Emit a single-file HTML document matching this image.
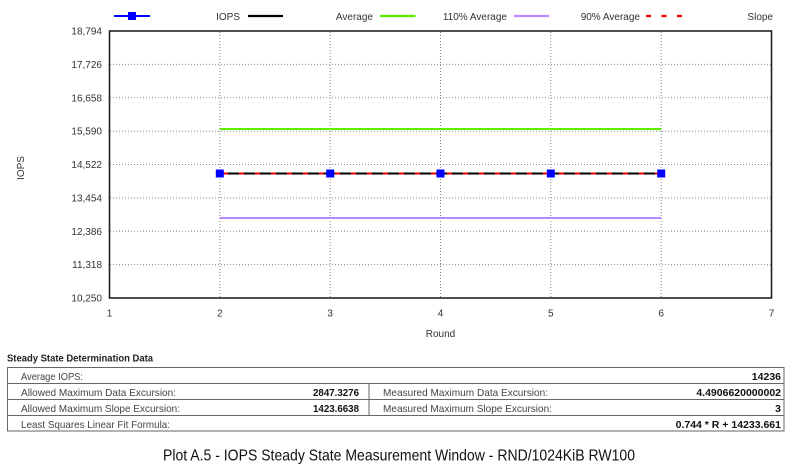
<!DOCTYPE html>
<html><head><meta charset="utf-8"><style>
html,body{margin:0;padding:0;background:#fff;}
svg{display:block;}
</style></head><body>
<svg width="800" height="465" viewBox="0 0 800 465" xmlns="http://www.w3.org/2000/svg" font-family="Liberation Sans, Arial, sans-serif">
<rect width="800" height="465" fill="#fff"/>
<!-- grid -->
<g stroke="#8a8a8a" stroke-width="1" stroke-dasharray="1,2" fill="none">
<line x1="110" y1="64.4" x2="771" y2="64.4"/>
<line x1="110" y1="97.75" x2="771" y2="97.75"/>
<line x1="110" y1="131.1" x2="771" y2="131.1"/>
<line x1="110" y1="164.5" x2="771" y2="164.5"/>
<line x1="110" y1="197.9" x2="771" y2="197.9"/>
<line x1="110" y1="231.25" x2="771" y2="231.25"/>
<line x1="110" y1="264.6" x2="771" y2="264.6"/>
<line x1="219.8" y1="32" x2="219.8" y2="297"/>
<line x1="330.2" y1="32" x2="330.2" y2="297"/>
<line x1="440.5" y1="32" x2="440.5" y2="297"/>
<line x1="550.8" y1="32" x2="550.8" y2="297"/>
<line x1="661.2" y1="32" x2="661.2" y2="297"/>
</g>
<!-- border -->
<rect x="109.5" y="31" width="662" height="267" fill="none" stroke="#222" stroke-width="1.6"/>
<!-- y tick labels -->
<g font-size="10" fill="#333" text-anchor="end">
<text x="102" y="34.6">18,794</text>
<text x="102" y="68">17,726</text>
<text x="102" y="101.4">16,658</text>
<text x="102" y="134.7">15,590</text>
<text x="102" y="168.1">14,522</text>
<text x="102" y="201.5">13,454</text>
<text x="102" y="234.9">12,386</text>
<text x="102" y="268.2">11,318</text>
<text x="102" y="301.6">10,250</text>
</g>
<!-- x tick labels -->
<g font-size="10" fill="#333" text-anchor="middle">
<text x="109.5" y="316.5">1</text>
<text x="219.8" y="316.5">2</text>
<text x="330.2" y="316.5">3</text>
<text x="440.5" y="316.5">4</text>
<text x="550.8" y="316.5">5</text>
<text x="661.2" y="316.5">6</text>
<text x="771.5" y="316.5">7</text>
<text x="440.5" y="337">Round</text>
</g>
<text x="24" y="168" font-size="10" fill="#333" text-anchor="middle" transform="rotate(-90 24 168)">IOPS</text>
<!-- series -->
<line x1="219.8" y1="129" x2="661.2" y2="129" stroke="#5cf000" stroke-width="2"/>
<line x1="219.8" y1="218" x2="661.2" y2="218" stroke="#b98aff" stroke-width="2"/>
<line x1="219.8" y1="173.5" x2="661.2" y2="173.5" stroke="#000" stroke-width="2"/>
<line x1="223" y1="173.5" x2="661.2" y2="173.5" stroke="#ee0000" stroke-width="2" stroke-dasharray="5,11"/>
<g fill="#0000ff">
<rect x="215.8" y="169.5" width="8" height="8"/>
<rect x="326.2" y="169.5" width="8" height="8"/>
<rect x="436.5" y="169.5" width="8" height="8"/>
<rect x="546.8" y="169.5" width="8" height="8"/>
<rect x="657.2" y="169.5" width="8" height="8"/>
</g>
<!-- legend -->
<line x1="114" y1="16" x2="150" y2="16" stroke="#0000ff" stroke-width="2"/>
<rect x="128" y="12" width="8" height="8" fill="#0000ff"/>
<line x1="248" y1="16" x2="283" y2="16" stroke="#000" stroke-width="2.2"/>
<line x1="380" y1="16" x2="415.5" y2="16" stroke="#5cf000" stroke-width="2.2"/>
<line x1="514" y1="16" x2="549" y2="16" stroke="#b98aff" stroke-width="2.2"/>
<line x1="646" y1="16" x2="684" y2="16" stroke="#ee0000" stroke-width="2.2" stroke-dasharray="5,10.5"/>
<g font-size="10" fill="#333" text-anchor="end">
<text x="240" y="20">IOPS</text>
<text x="373" y="20">Average</text>
<text x="507" y="20">110% Average</text>
<text x="640" y="20">90% Average</text>
<text x="773" y="20">Slope</text>
</g>
<!-- table -->
<text x="7" y="361.5" font-size="10.5" font-weight="bold" fill="#222" textLength="146" lengthAdjust="spacingAndGlyphs">Steady State Determination Data</text>
<g stroke="#666" stroke-width="1" fill="none">
<rect x="7.5" y="367.5" width="776.5" height="63.5"/>
<line x1="7.5" y1="383.5" x2="784" y2="383.5"/>
<line x1="7.5" y1="399.5" x2="784" y2="399.5"/>
<line x1="7.5" y1="415.5" x2="784" y2="415.5"/>
<line x1="369" y1="383.5" x2="369" y2="415.5"/>
</g>
<g font-size="10.5" fill="#444">
<text x="21" y="380" textLength="62" lengthAdjust="spacingAndGlyphs">Average IOPS:</text>
<text x="21" y="396" textLength="155" lengthAdjust="spacingAndGlyphs">Allowed Maximum Data Excursion:</text>
<text x="21" y="412" textLength="159" lengthAdjust="spacingAndGlyphs">Allowed Maximum Slope Excursion:</text>
<text x="21" y="428" textLength="149" lengthAdjust="spacingAndGlyphs">Least Squares Linear Fit Formula:</text>
<text x="383" y="396" textLength="165" lengthAdjust="spacingAndGlyphs">Measured Maximum Data Excursion:</text>
<text x="383" y="412" textLength="169" lengthAdjust="spacingAndGlyphs">Measured Maximum Slope Excursion:</text>
</g>
<g font-size="10.5" fill="#111" font-weight="bold" text-anchor="end">
<text x="359" y="396" textLength="46" lengthAdjust="spacingAndGlyphs">2847.3276</text>
<text x="359" y="412" textLength="46" lengthAdjust="spacingAndGlyphs">1423.6638</text>
<text x="781" y="380">14236</text>
<text x="781" y="396">4.4906620000002</text>
<text x="781" y="412">3</text>
<text x="781" y="428">0.744 * R + 14233.661</text>
</g>
<!-- caption -->
<text x="163" y="460.5" font-size="16" fill="#111" textLength="472" lengthAdjust="spacingAndGlyphs">Plot A.5 - IOPS Steady State Measurement Window - RND/1024KiB RW100</text>
</svg>
</body></html>
